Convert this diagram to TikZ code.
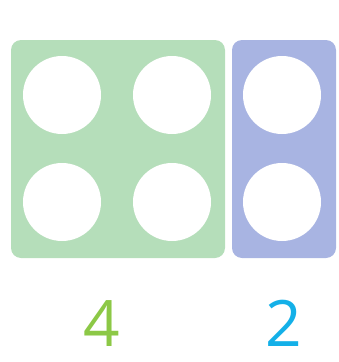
\documentclass[tikz,border=0pt]{standalone}
\usepackage{fontspec}
\setmainfont{Open Sans}
\usetikzlibrary{positioning}
\definecolor{panelgreen}{RGB}{181,222,186}
\definecolor{panelblue}{RGB}{168,180,226}
\definecolor{numgreen}{RGB}{140,200,70}
\definecolor{numblue}{RGB}{20,176,232}

\begin{document}
\begin{tikzpicture}[x=1pt, y=-1pt, every node/.style={inner sep=0pt}]
				\useasboundingbox (0,0) rectangle (338,362);
				\node[rectangle, rounded corners=10pt, fill=panelgreen, minimum width=214pt, minimum height=218pt] (greenpanel) at (118,149) {};
				\node[rectangle, rounded corners=10pt, fill=panelblue, minimum width=104pt, minimum height=218pt] (bluepanel) at (284,149) {};
				% holes
				\foreach \cx/\cy/\nm in {62/95/ga, 172/95/gb, 62/202/gc, 172/202/gd, 282/95/ba, 282/202/bb}
					\node[circle, fill=white, minimum size=78pt] (\nm) at (\cx,\cy) {};
				\node[text=numgreen, font=\fontsize{64}{64}\selectfont, text depth=0pt] (four) [below=88pt of greenpanel.south, xshift=-16pt, anchor=base] {4};
				\node[text=numblue, font=\fontsize{64}{64}\selectfont, text depth=0pt] (two) [below=88pt of bluepanel.south, anchor=base] {2};
			\end{tikzpicture}
\end{document}
